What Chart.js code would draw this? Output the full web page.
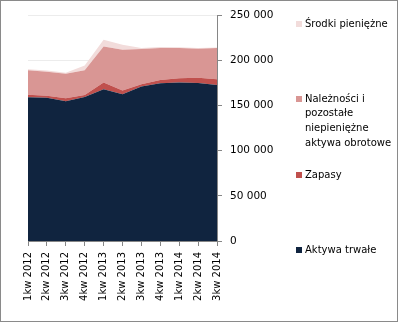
<!DOCTYPE html>
<html>
<head>
<meta charset="utf-8">
<script src="https://cdn.jsdelivr.net/npm/chart.js@4"></script>
<style>
  html,body{margin:0;padding:0;background:#fff;}
  #wrap{position:relative;width:398px;height:322px;overflow:hidden;}
  #c{position:absolute;left:0;top:0;}
  #frame{position:absolute;left:0;top:0;width:398px;height:322px;box-sizing:border-box;border:1px solid #8a8a8a;pointer-events:none;}
  .lg{position:absolute;left:296px;font-family:"DejaVu Sans",sans-serif;font-size:10px;color:#000;}
  .lg .sw{position:absolute;left:0;width:6px;height:6px;}
  .lg .tx{position:absolute;left:9px;white-space:nowrap;line-height:14.7px;}
</style>
</head>
<body>
<div id="wrap">
  <canvas id="c" width="398" height="322"></canvas>
  <div id="legend"></div>
  <div id="frame"></div>
</div>
<script>
const categories = ["1kw 2012","2kw 2012","3kw 2012","4kw 2012","1kw 2013","2kw 2013","3kw 2013","4kw 2013","1kw 2014","2kw 2014","3kw 2014"];
const aktywaTrwale = [159000, 158600, 154600, 159400, 167900, 162400, 170800, 174600, 175300, 174900, 172700];
const zapasy = [2900, 2200, 3400, 2200, 7400, 4000, 2700, 3600, 4800, 5600, 6300];
const naleznosci = [27100, 26300, 26900, 27400, 39900, 45100, 38800, 35200, 33300, 32100, 34400];
const srodki = [1100, 1500, 1100, 5000, 7400, 5600, 1100, 1100, 800, 1000, 700];
const seriesNames = ["Aktywa trwałe", "Zapasy", "Należności i pozostałe niepieniężne aktywa obrotowe", "Środki pieniężne"];
const yTicks = [0, 50000, 100000, 150000, 200000, 250000];

const colors = ["#10243f", "#c0504d", "#d99694", "#f2dcdb"];
const seriesData = [aktywaTrwale, zapasy, naleznosci, srodki];

const fmt = v => String(v).replace(/\B(?=(\d{3})+(?!\d))/g, " ");
const FONT = {family: "DejaVu Sans", size: 10.5};

new Chart(document.getElementById("c"), {
  type: "line",
  data: {
    labels: categories,
    datasets: seriesData.map((d, i) => ({
      label: seriesNames[i],
      data: d,
      backgroundColor: colors[i],
      borderColor: colors[i],
      borderWidth: 0,
      pointRadius: 0,
      tension: 0,
      fill: i === 0 ? "origin" : "-1"
    }))
  },
  options: {
    responsive: false,
    animation: false,
    layout: {padding: {left: 28, top: 15, right: 0, bottom: 0}},
    plugins: {legend: {display: false}, tooltip: {enabled: false}},
    scales: {
      x: {
        type: "category",
        offset: false,
        grid: {display: true, drawOnChartArea: false, tickLength: 5, tickColor: "#868686"},
        border: {color: "#868686"},
        ticks: {minRotation: 90, maxRotation: 90, autoSkip: false, padding: 6, color: "#000", font: {family: "DejaVu Sans", size: 10}},
        afterFit: s => { s.height = 81; }
      },
      y: {
        position: "right",
        stacked: true,
        min: 0,
        max: 250000,
        afterBuildTicks: s => { s.ticks = yTicks.map(v => ({value: v})); },
        grid: {color: "#ececec", tickLength: 5, tickColor: "#868686"},
        border: {color: "#868686"},
        ticks: {padding: 8, color: "#000", font: FONT, callback: v => fmt(v)},
        afterFit: s => { s.width = 181; }
      }
    }
  }
});

// Legend (right side, spread vertically like the original)
const legendItems = [
  {idx: 3, top: 24, lines: ["Środki pieniężne"]},
  {idx: 2, top: 99, lines: ["Należności i", "pozostałe", "niepieniężne", "aktywa obrotowe"]},
  {idx: 1, top: 175, lines: ["Zapasy"]},
  {idx: 0, top: 250, lines: ["Aktywa trwałe"]}
];
const lg = document.getElementById("legend");
legendItems.forEach(it => {
  const d = document.createElement("div");
  d.className = "lg";
  d.style.top = (it.top) + "px";
  const sw = document.createElement("div");
  sw.className = "sw";
  sw.style.background = colors[it.idx];
  sw.style.top = "-3px";
  d.appendChild(sw);
  const tx = document.createElement("div");
  tx.className = "tx";
  tx.style.top = "-7.35px";
  tx.innerHTML = it.lines.join("<br>");
  d.appendChild(tx);
  lg.appendChild(d);
});
</script>
</body>
</html>
